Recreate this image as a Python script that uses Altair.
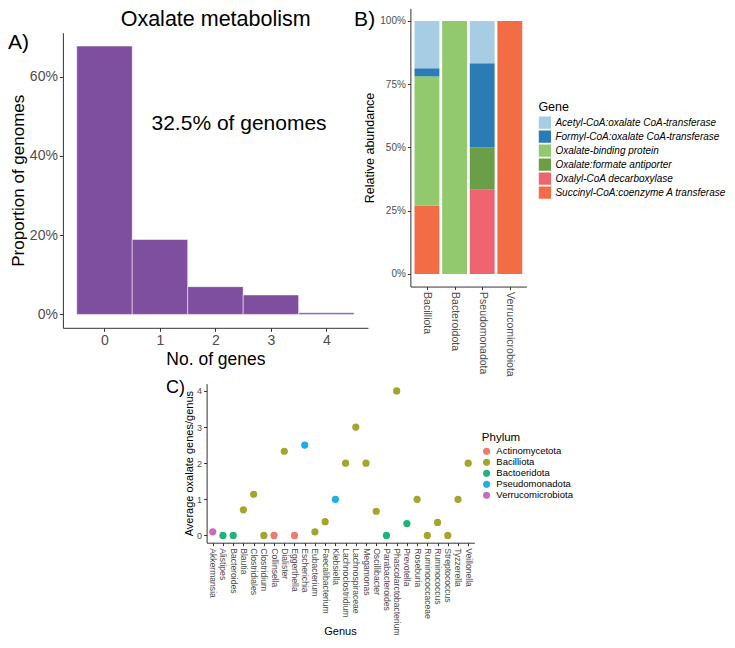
import altair as alt
import pandas as pd

FONT = "Liberation Sans"
S = 0.975
W, H = 719, 632


def P(v):
    return round(v * S, 2)


# ---------------- Panel A data ----------------
a_genes = [0, 1, 2, 3, 4]
a_prop = [0.677, 0.189, 0.070, 0.049, 0.004]
a_yticks = [0, 0.2, 0.4, 0.6]

# ---------------- Panel B data ----------------
b_phyla = ["Bacilliota", "Bacteroidota", "Pseudomonadota", "Verrucomicrobiota"]
b_genes = [
    "Acetyl-CoA:oxalate CoA-transferase",
    "Formyl-CoA:oxalate CoA-transferase",
    "Oxalate-binding protein",
    "Oxalate:formate antiporter",
    "Oxalyl-CoA decarboxylase",
    "Succinyl-CoA:coenzyme A transferase",
]
b_colors = ["#A6CDE3", "#2B7BB4", "#92C96F", "#6A9E47", "#EE6470", "#F26C45"]
b_bacilliota = [0.187, 0.032, 0.512, 0.0, 0.0, 0.269]
b_bacteroidota = [0.0, 0.0, 1.0, 0.0, 0.0, 0.0]
b_pseudomonadota = [0.167, 0.333, 0.0, 0.167, 0.333, 0.0]
b_verrucomicrobiota = [0.0, 0.0, 0.0, 0.0, 0.0, 1.0]
b_yticks = [0, 0.25, 0.5, 0.75, 1.0]

# ---------------- Panel C data ----------------
c_genera = ["Akkermansia", "Alistipes", "Bacteroides", "Blautia", "Clostridiales",
            "Clostridium", "Collinsella", "Dialister", "Eggerthella", "Escherichia",
            "Eubacterium", "Faecalibacterium", "Klebsiella", "Lachnoclostridium",
            "Lachnospiraceae", "Megamonas", "Oscillibacter", "Parabacteroides",
            "Phascolarctobacterium", "Prevotella", "Roseburia", "Ruminococcaceae",
            "Ruminococcus", "Streptococcus", "Tyzzerella", "Veillonella"]
c_avg = [0.1, 0.0, 0.0, 0.71, 1.14, 0.0, 0.0, 2.33, 0.0, 2.5, 0.1, 0.38, 1.0,
         2.0, 3.0, 2.0, 0.67, 0.0, 4.0, 0.33, 1.0, 0.0, 0.36, 0.0, 1.0, 2.0]
c_phylum = ["Verrucomicrobiota", "Bactoeridota", "Bactoeridota", "Bacilliota", "Bacilliota",
            "Bacilliota", "Actinomycetota", "Bacilliota", "Actinomycetota", "Pseudomonadota",
            "Bacilliota", "Bacilliota", "Pseudomonadota", "Bacilliota",
            "Bacilliota", "Bacilliota", "Bacilliota", "Bactoeridota",
            "Bacilliota", "Bactoeridota", "Bacilliota", "Bacilliota",
            "Bacilliota", "Bacilliota", "Bacilliota", "Bacilliota"]
c_phyla = ["Actinomycetota", "Bacilliota", "Bactoeridota", "Pseudomonadota", "Verrucomicrobiota"]
c_colors = ["#F07A70", "#A3A52D", "#1FB57A", "#1EAEE6", "#C86CC0"]
c_yticks = [0, 1, 2, 3, 4]

# ---------------- tables ----------------
df_a = pd.DataFrame({
    "x0": [g - 0.5 for g in a_genes],
    "x1": [g + 0.5 for g in a_genes],
    "y0": [0.0] * len(a_genes),
    "prop": a_prop,
})

rows = []
for i, (ph, vals) in enumerate(zip(b_phyla, [b_bacilliota, b_bacteroidota,
                                            b_pseudomonadota, b_verrucomicrobiota]), start=1):
    cum = 0.0
    for gene, v in reversed(list(zip(b_genes, vals))):
        if v > 0:
            rows.append({"x0": i - 0.45, "x1": i + 0.45, "y0": cum, "y1": cum + v,
                         "gene": gene, "phylum": ph})
            cum += v
df_b = pd.DataFrame(rows)

df_c = pd.DataFrame({
    "idx": list(range(1, len(c_genera) + 1)),
    "genus": c_genera,
    "avg": c_avg,
    "phylum": c_phylum,
})

AX = dict(domainColor="#333333", tickColor="#333333", labelColor="#4D4D4D", grid=False,
          labelFont=FONT, titleFont=FONT, titleColor="black", titleFontWeight="normal",
          labelFlush=False, labelOverlap=False, domainWidth=1, tickWidth=1)

# ---------------- Panel A ----------------
a_xs = alt.Scale(domain=[-0.75, 4.75], range=[P(56.3), P(369.2)], nice=False, zero=False)
a_ys = alt.Scale(domain=[-0.03385, 0.71085], range=[P(328), P(25.3)], nice=False, zero=False)
chart_a = alt.Chart(df_a).mark_rect(fill="#7D4F9E", stroke="white", strokeWidth=0.5).encode(
    x=alt.X("x0:Q", scale=a_xs,
            axis=alt.Axis(orient="bottom", offset=P(328) - H, values=a_genes, format="d",
                          title="No. of genes", labelFontSize=14, titleFontSize=17.5,
                          tickSize=3.5, labelPadding=2, titlePadding=3, labelAngle=0, **AX)),
    x2="x1:Q",
    y=alt.Y("y0:Q", scale=a_ys,
            axis=alt.Axis(orient="left", offset=-P(56.3), values=a_yticks, format=".0%",
                          title="Proportion of genomes", labelFontSize=14, titleFontSize=17,
                          tickSize=3.5, labelPadding=2, titlePadding=2, **AX)),
    y2="prop:Q",
)

# ---------------- Panel B ----------------
b_xs = alt.Scale(domain=[0.4, 4.6], range=[P(412.7), P(531.7)], nice=False, zero=False)
b_ys = alt.Scale(domain=[-0.05, 1.05], range=[P(285.7), P(0.3)], nice=False, zero=False)
b_label_expr = "[" + ",".join("'" + p + "'" for p in b_phyla) + "][datum.value - 1]"
chart_b = alt.Chart(df_b).mark_rect().encode(
    x=alt.X("x0:Q", scale=b_xs,
            axis=alt.Axis(orient="bottom", offset=P(285.7) - H, values=[1, 2, 3, 4],
                          labelExpr=b_label_expr, labelAngle=90, labelAlign="left",
                          labelBaseline="middle", title="", labelFontSize=10.5,
                          tickSize=3, labelPadding=2, **AX)),
    x2="x1:Q",
    y=alt.Y("y0:Q", scale=b_ys,
            axis=alt.Axis(orient="left", offset=-P(412.7), values=b_yticks, format=".0%",
                          title="Relative abundance", labelFontSize=10, titleFontSize=12.5,
                          tickSize=3, labelPadding=2, titlePadding=3, **AX)),
    y2="y1:Q",
    color=alt.Color("gene:N", scale=alt.Scale(domain=b_genes, range=b_colors),
                    legend=alt.Legend(orient="none", legendX=P(544), legendY=P(95),
                                      title="Gene", titleFont=FONT, titleFontSize=12.5,
                                      titleFontWeight="normal", titleColor="black",
                                      titlePadding=3, symbolType="square", symbolSize=150,
                                      symbolStrokeWidth=0, symbolOpacity=1,
                                      labelFont=FONT, labelFontSize=10, labelFontStyle="italic",
                                      labelColor="black", labelOffset=4, rowPadding=1,
                                      labelLimit=300)),
)

# ---------------- Panel C ----------------
c_xs = alt.Scale(domain=[0.4, 26.6], range=[P(203.7), P(478.3)], nice=False, zero=False)
c_ys = alt.Scale(domain=[-0.2, 4.2], range=[P(548.4), P(385.3)], nice=False, zero=False)
c_label_expr = "[" + ",".join("'" + g + "'" for g in c_genera) + "][datum.value - 1]"
chart_c = alt.Chart(df_c).mark_circle(size=52, opacity=1).encode(
    x=alt.X("idx:Q", scale=c_xs,
            axis=alt.Axis(orient="bottom", offset=P(548.4) - H,
                          values=list(range(1, len(c_genera) + 1)),
                          labelExpr=c_label_expr, labelAngle=90, labelAlign="left",
                          labelBaseline="middle", title="", labelFontSize=8.6,
                          tickSize=3, labelPadding=2, **AX)),
    y=alt.Y("avg:Q", scale=c_ys,
            axis=alt.Axis(orient="left", offset=-P(203.7), values=c_yticks, format="d",
                          title="Average oxalate genes/genus", labelFontSize=9,
                          titleFontSize=11, tickSize=3, labelPadding=2, titlePadding=2, **AX)),
    color=alt.Color("phylum:N", scale=alt.Scale(domain=c_phyla, range=c_colors),
                    legend=alt.Legend(orient="none", legendX=P(486), legendY=P(435),
                                      title="Phylum", titleFont=FONT, titleFontSize=11.5,
                                      titleFontWeight="normal", titleColor="black",
                                      titlePadding=3, symbolType="circle", symbolSize=50,
                                      symbolStrokeWidth=0, symbolOpacity=1,
                                      labelFont=FONT, labelFontSize=9.5, labelColor="black",
                                      labelOffset=5, rowPadding=0, labelLimit=200)),
)


def note(text, x, y, size, align="left"):
    return alt.Chart(pd.DataFrame({"t": [text]})).mark_text(
        align=align, baseline="middle", fontSize=size, font=FONT, color="black"
    ).encode(x=alt.value(P(x)), y=alt.value(P(y)), text="t:N")


notes = [
    note("Oxalate metabolism", 213, 12, 21.5, "center"),
    note("A)", 0, 36, 21),
    note("B)", 355, 12, 21),
    note("C)", 162, 390, 18),
    note("32.5% of genomes", 237, 119, 21, "center"),
    note("Genus", 341, 640, 11, "center"),
]

chart = alt.layer(chart_a, chart_b, chart_c, *notes).resolve_scale(
    x="independent", y="independent", color="independent"
).resolve_axis(
    x="independent", y="independent"
).resolve_legend(
    color="independent"
).properties(
    width=W, height=H, padding=0,
    autosize=alt.AutoSizeParams(type="none"),
).configure_view(strokeWidth=0)

chart.save("out.html", embed_options={"renderer": "svg", "actions": False})
